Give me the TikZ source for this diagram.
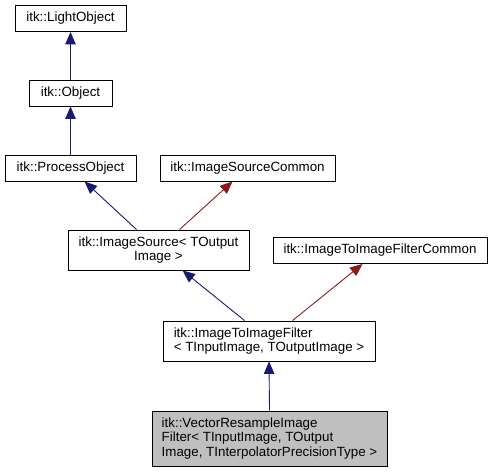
\documentclass[tikz,border=0pt]{standalone}
\usepackage{fontspec}
\setmainfont{Liberation Sans}
\usetikzlibrary{arrows.meta,calc}
\definecolor{inhblue}{HTML}{191970}
\definecolor{usered}{HTML}{8B1A1A}
\begin{document}
\begin{tikzpicture}[x=1bp,y=-1bp,
  box/.style={draw=black,line width=0.9bp,fill=white,inner sep=0pt,
    font=\fontsize{13.4}{14.8}\selectfont},
  cls/.style={box,minimum height=26bp},
  inh/.style={draw=inhblue,line width=0.9bp,-{Triangle[width=10.5bp,length=12.5bp]}},
  use/.style={draw=usered,line width=0.9bp,-{Triangle[width=10.5bp,length=12.5bp]}}]
\useasboundingbox (0,0) rectangle (492,472);
\node[cls,minimum width=111bp] (lo) at (70.5,18.5) {itk::LightObject};
\node[cls,minimum width=83bp] (ob) at (70.5,93) {itk::Object};
\node[cls,minimum width=131bp] (po) at (70.5,168) {itk::ProcessObject};
\node[cls,minimum width=175bp] (isc) at (247.5,168) {itk::ImageSourceCommon};
\node[box,minimum width=181bp,minimum height=40bp,align=center] (is) at (158.5,250) {itk::ImageSource< TOutput\\Image >};
\node[cls,minimum width=214bp] (itc) at (380,250.5) {itk::ImageToImageFilterCommon};
\node[box,minimum width=212bp,minimum height=40bp,align=left] (itf) at (269,341) {itk::ImageToImageFilter\\< TInputImage, TOutputImage >};
\node[box,fill=black!25,minimum width=235bp,minimum height=55bp,align=left] (vr) at (269.5,438.5) {itk::VectorResampleImage\\Filter< TInputImage, TOutput\\Image, TInterpolatorPrecisionType >};
\draw[inh] (ob.north) -- (lo.south);
\draw[inh] (po.north) -- (ob.south);
\draw[inh] ($(is.north west)+(69,0)$) -- ($(po.south west)+(80,0)$);
\draw[use] ($(is.north west)+(112,0)$) -- ($(isc.south west)+(73,0)$);
\draw[inh] ($(itf.north west)+(82,0)$) -- ($(is.south west)+(115,0)$);
\draw[use] ($(itf.north west)+(130,0)$) -- ($(itc.south west)+(90,0)$);
\draw[inh] (vr.north) -- (itf.south);
\end{tikzpicture}
\end{document}
